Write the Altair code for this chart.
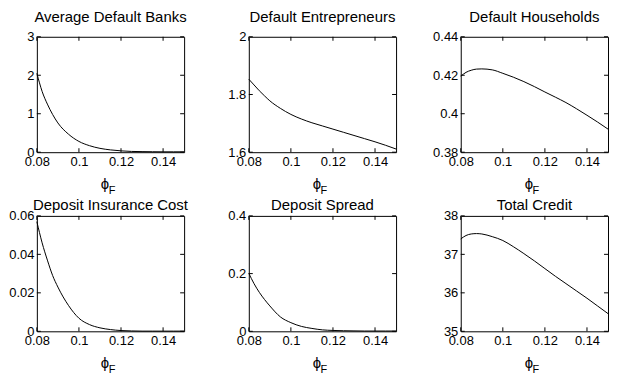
import altair as alt
import pandas as pd

# ---- data ----
phi = [0.08, 0.0825, 0.085, 0.0875, 0.09, 0.095, 0.10, 0.105, 0.11, 0.115,
       0.12, 0.125, 0.13, 0.135, 0.14, 0.145, 0.15]

avg_default_banks = [2.05, 1.58, 1.25, 0.98, 0.76, 0.47, 0.28, 0.17, 0.10, 0.06,
                     0.035, 0.02, 0.015, 0.012, 0.01, 0.01, 0.01]
default_entrepreneurs = [1.853, 1.833, 1.813, 1.795, 1.778, 1.752, 1.731, 1.715, 1.702, 1.691,
                         1.680, 1.669, 1.658, 1.647, 1.636, 1.624, 1.611]
default_households = [0.4195, 0.4215, 0.4226, 0.4232, 0.4233, 0.4228, 0.4210, 0.4190, 0.4167, 0.4141,
                      0.4113, 0.4086, 0.4058, 0.4026, 0.3992, 0.3957, 0.3920]
deposit_insurance_cost = [0.057, 0.046, 0.037, 0.029, 0.023, 0.0135, 0.0068, 0.0035, 0.0018, 0.0009,
                          0.0004, 0.0002, 0.0001, 0.0001, 0.0001, 0.0001, 0.0001]
deposit_spread = [0.201, 0.165, 0.135, 0.110, 0.088, 0.050, 0.030, 0.017, 0.010, 0.005,
                  0.003, 0.002, 0.0015, 0.001, 0.001, 0.001, 0.001]
total_credit = [37.40, 37.49, 37.53, 37.54, 37.53, 37.46, 37.36, 37.20, 37.02, 36.83,
                36.63, 36.43, 36.24, 36.05, 35.86, 35.66, 35.46]

titles = ["Average Default Banks", "Default Entrepreneurs", "Default Households",
          "Deposit Insurance Cost", "Deposit Spread", "Total Credit"]
series = [avg_default_banks, default_entrepreneurs, default_households,
          deposit_insurance_cost, deposit_spread, total_credit]
y_domains = [[0, 3], [1.6, 2.0], [0.38, 0.44], [0, 0.06], [0, 0.4], [35, 38]]
y_ticks = [[0, 1, 2, 3], [1.6, 1.8, 2.0], [0.38, 0.4, 0.42, 0.44],
           [0, 0.02, 0.04, 0.06], [0, 0.2, 0.4], [35, 36, 37, 38]]
x_domain = [0.08, 0.15]
x_ticks = [0.08, 0.1, 0.12, 0.14]
x_title = "ϕ"
x_sub = "F"

W, H = 148, 116
FONT = "Liberation Sans"
TICK = 4


def panel(i):
    row = i // 3
    df = pd.DataFrame({"phi": phi, "v": series[i]})
    xenc = alt.X("phi:Q",
                 scale=alt.Scale(domain=x_domain, nice=False, zero=False),
                 axis=alt.Axis(values=x_ticks, format="~g", title=x_title, labelFlush=False,
                               titleX=W / 2 - 6, titleAlign="center",
                               titleFontSize=15, titlePadding=8))
    yenc = alt.Y("v:Q",
                 scale=alt.Scale(domain=y_domains[i], nice=False, zero=False),
                 axis=alt.Axis(values=y_ticks[i], format="~g", title=None, labelFlush=False))

    line = alt.Chart(df).mark_line(color="black", strokeWidth=1,
                                   interpolate="monotone").encode(x=xenc, y=yenc)

    xt = pd.DataFrame({"phi": x_ticks})
    yt = pd.DataFrame({"v": y_ticks[i]})
    rule = dict(color="black", strokeWidth=1)
    xb = alt.Chart(xt).mark_rule(**rule).encode(x=xenc, y=alt.value(H), y2=alt.value(H - TICK))
    xtop = alt.Chart(xt).mark_rule(**rule).encode(x=xenc, y=alt.value(0), y2=alt.value(TICK))
    yl = alt.Chart(yt).mark_rule(**rule).encode(y=yenc, x=alt.value(0), x2=alt.value(TICK))
    yr = alt.Chart(yt).mark_rule(**rule).encode(y=yenc, x=alt.value(W), x2=alt.value(W - TICK))

    sub = alt.Chart(pd.DataFrame({"s": [x_sub]})).mark_text(
        font=FONT, fontSize=11, align="center", baseline="alphabetic", color="black"
    ).encode(text="s:N", x=alt.value(W / 2 + 1.5), y=alt.value(H + 42))

    return alt.layer(line, xb, xtop, yl, yr, sub).properties(
        width=W, height=H,
        title=alt.TitleParams(titles[i], fontSize=15, fontWeight="normal", font=FONT,
                              color="black", anchor="middle", baseline="alphabetic",
                              frame="group", offset=-6 if row == 0 else -15),
    )


chart = alt.concat(*[panel(i) for i in range(6)], columns=3,
                   spacing=alt.RowColnumber(column=65, row=64)).properties(
    bounds="flush", padding=0
).configure(font=FONT).configure_axis(
    labelFont=FONT, titleFont=FONT, labelFontSize=13, labelColor="black", titleColor="black",
    titleFontWeight="normal", tickSize=0, domain=False, grid=False, labelPadding=3
).configure_view(stroke="black", strokeWidth=1)

chart.save("out.html", embed_options={"renderer": "svg", "actions": False})
